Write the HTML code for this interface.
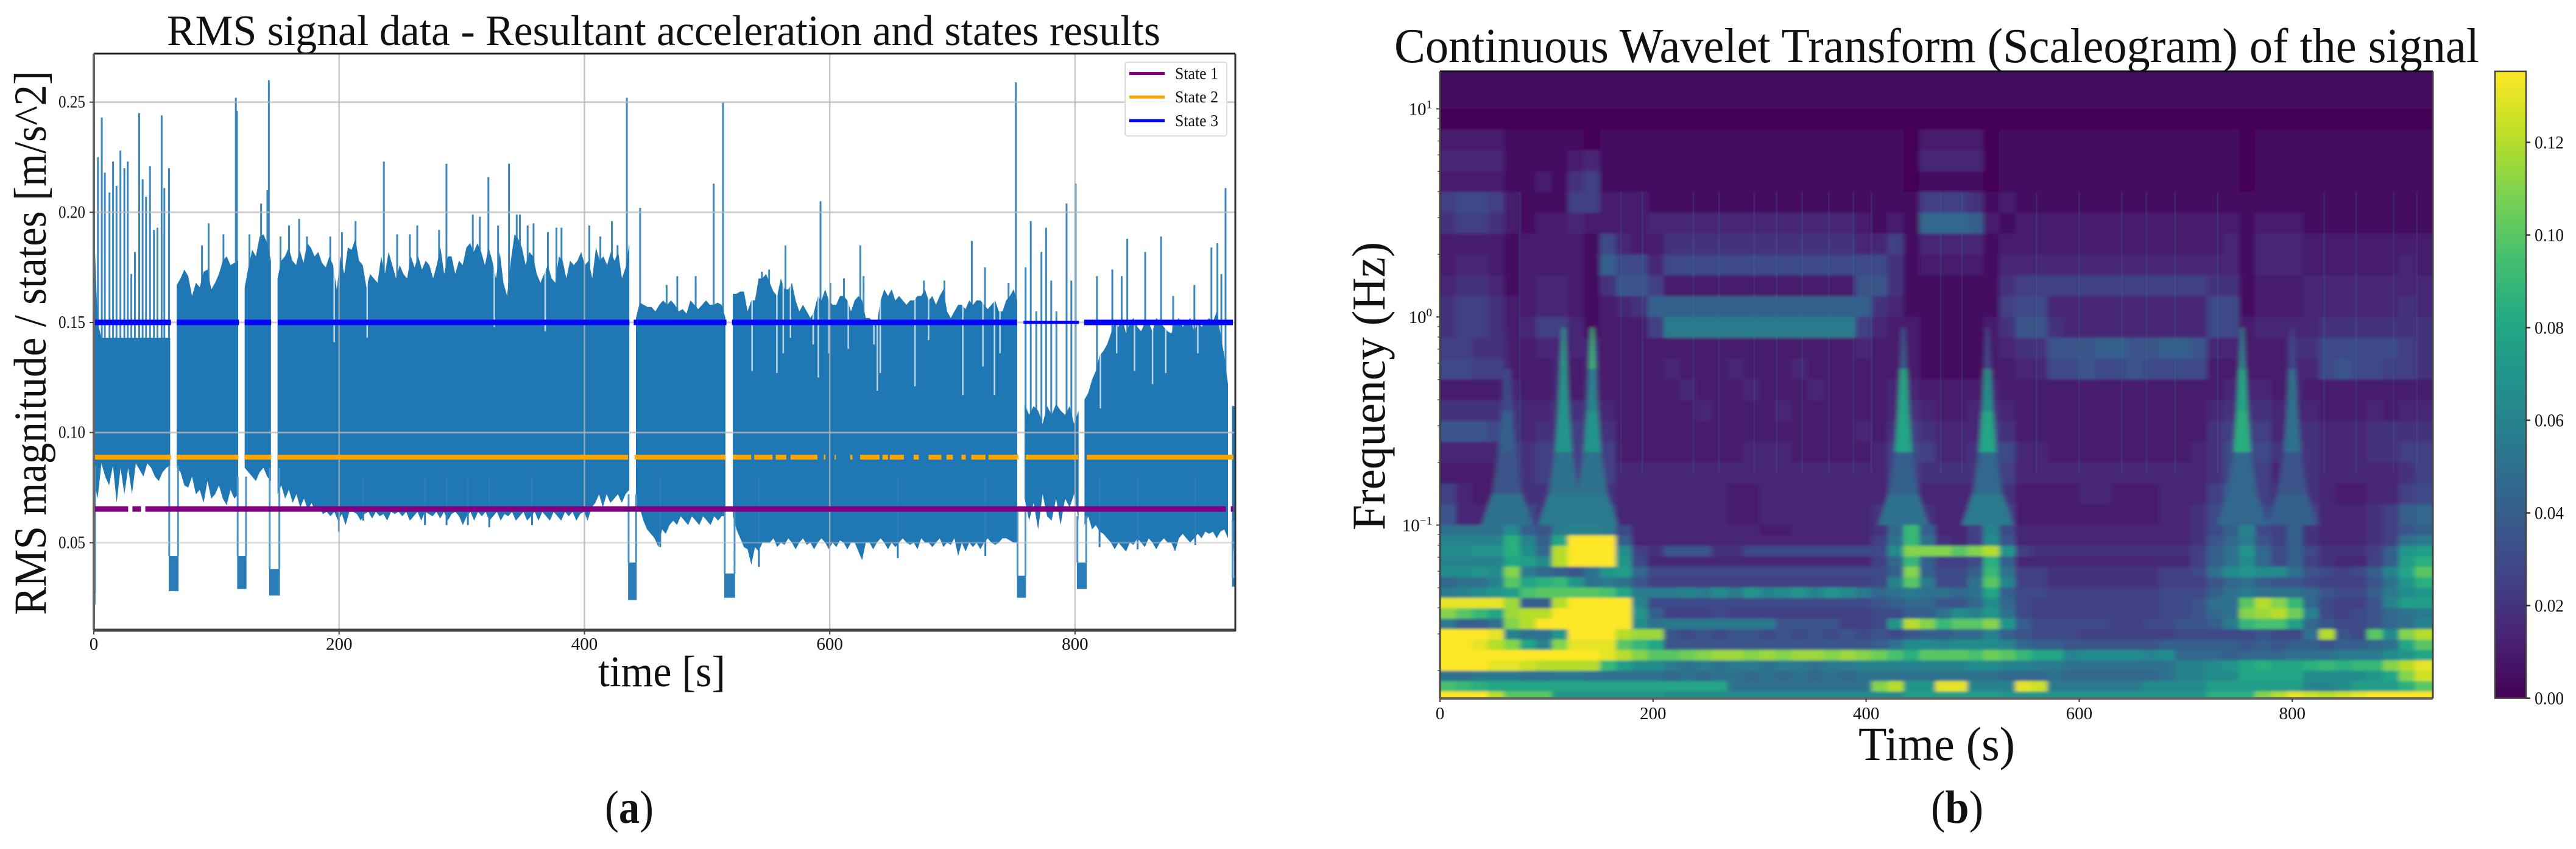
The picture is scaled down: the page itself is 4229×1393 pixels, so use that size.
<!DOCTYPE html>
<html lang="en">
<head>
<meta charset="utf-8">
<title>RMS signal and wavelet scaleogram</title>
<style>
html,body{margin:0;padding:0;background:#fff;width:4229px;height:1393px;overflow:hidden}
svg{display:block}
text{font-family:"Liberation Serif",serif;fill:#111}
</style>
</head>
<body>
<svg id="fig" xmlns="http://www.w3.org/2000/svg" width="4229" height="1393" viewBox="0 0 4229 1393">
<defs>
<clipPath id="clipA"><rect x="154" y="88" width="1874" height="946"/></clipPath>
<clipPath id="clipB"><rect x="2364" y="117" width="1630" height="1029"/></clipPath>
<filter id="soft" x="-2%" y="-2%" width="104%" height="104%"><feGaussianBlur stdDeviation="4 2"/></filter>
<linearGradient id="viridisBar" x1="0" y1="1" x2="0" y2="0">
<stop offset="0" stop-color="#440154"/><stop offset=".1" stop-color="#482475"/><stop offset=".2" stop-color="#414487"/><stop offset=".3" stop-color="#355f8d"/><stop offset=".4" stop-color="#2a788e"/><stop offset=".5" stop-color="#21918c"/><stop offset=".6" stop-color="#22a884"/><stop offset=".7" stop-color="#44bf70"/><stop offset=".8" stop-color="#7ad151"/><stop offset=".9" stop-color="#bddf26"/><stop offset="1" stop-color="#fde725"/>
</linearGradient>
</defs>

<text x="274" y="74" font-size="71" textLength="1631" lengthAdjust="spacingAndGlyphs">RMS signal data - Resultant acceleration and states results</text>
<text transform="translate(75,1009) rotate(-90)" font-size="75" textLength="893" lengthAdjust="spacingAndGlyphs">RMS magnitude / states  [m/s^2]</text>
<text x="982" y="1126" font-size="72" textLength="209" lengthAdjust="spacingAndGlyphs">time [s]</text>
<g id="chartA"></g>
<text x="993" y="1350" font-size="76" textLength="80" lengthAdjust="spacingAndGlyphs">(<tspan font-weight="bold">a</tspan>)</text>

<text x="2289" y="102" font-size="80" textLength="1781" lengthAdjust="spacingAndGlyphs">Continuous Wavelet Transform (Scaleogram) of the signal</text>
<text transform="translate(2273,870) rotate(-90)" font-size="77" textLength="473" lengthAdjust="spacingAndGlyphs">Frequency (Hz)</text>
<text x="3051" y="1247" font-size="78" textLength="257" lengthAdjust="spacingAndGlyphs">Time (s)</text>
<g id="chartB"></g>
<text x="3170" y="1350" font-size="76" textLength="86" lengthAdjust="spacingAndGlyphs">(<tspan font-weight="bold">b</tspan>)</text>
</svg>

<script>
// ---------- Panel (a): RMS signal (values in 0.001 m/s^2) ----------
const timeTicks = [0, 200, 400, 600, 800];
const rmsTicks = [0.05, 0.10, 0.15, 0.20, 0.25];
const rmsTickLabels = ['0.05', '0.10', '0.15', '0.20', '0.25'];
const legendLabels = ['State 1', 'State 2', 'State 3'];
const stateColors = ['#800080', '#ffa500', '#0000ff'];
const stateLevels = [0.0653, 0.0888, 0.15];

const bandStarts = [0, 67.6, 123, 149.8, 442, 521, 758.9, 807.7, 928];
const bandEnds = [62.3, 117.7, 144.4, 436.6, 515, 752.9, 802.9, 924.7, 930.6];
const bandUpper = [
[197,150,143,143,143,143,143,143,143,143,143,143,143,143,143,143,143,143,143,143,143],
[167,170,174,171,162,168,166,173,174,165,168,172,178,180,176,177,178],
[166,175,183,180,189,190,186,178],
[170,178,180,184,178,176,183,177,186,184,180,182,177,175,180,176,165,180,172,184,183,188,178,176,166,172,170,168,180,172,182,176,170,176,172,170,180,175,180,174,178,176,170,176,184,172,180,180,172,178,176,184,186,182,186,182,176,184,178,170,182,168,162,178,190,188,184,176,182,180,172,168,172,176,170,168,180,178,170,178,176,178,182,176,178,170,184,178,180,176,182,178,182,170,175,186],
[152,159,158,157,157,155,158,160,158,160,158,155,156,154,160,158,156,158,160,158,158,159,158,152],
[163,163,164,164,155,160,160,170,170,172,168,164,162,170,165,165,168,160,155,158,155,152,155,162,160,165,160,158,158,162,162,160,155,160,162,160,152,152,150,150,160,165,162,165,160,162,160,158,160,160,162,162,165,160,162,158,162,165,155,152,155,158,158,156,160,158,160,160,158,156,158,160,155,155,160,162,165,160],
[113,108,112,110,104,112,108,113,110,108,112,104,110],
[115,118,124,128,135,137,140,145,150,148,152,145,150,152,148,146,150,150,146,152,150,148,146,145,150,152,148,150,152,146,150,148,150,152,150,155,145,135,122],
[112,112]
];
const bandLower = [
[78,70,86,80,76,85,68,84,72,84,72,86,83,80,86,84,80,78,82,84,85],
[84,82,76,75,80,72,74,68,78,70,72,76,70,67,74,70,72],
[84,82,80,78,82,84,80,78],
[72,76,70,74,68,72,66,70,65,68,64,66,63,64,62,64,60,63,58,64,64,63,60,63,64,61,64,62,63,60,64,63,64,62,64,60,62,64,60,64,63,62,64,61,64,60,63,64,62,58,62,64,60,64,62,64,60,62,64,60,63,62,64,60,62,64,60,62,64,60,64,62,60,64,62,60,64,62,64,60,63,64,60,66,68,72,66,72,68,70,72,68,72,74],
[64,66,60,56,54,52,48,56,54,58,60,58,62,60,58,62,60,58,62,60,58,62,60,62,62],
[62,56,52,48,47,40,48,46,50,50,50,52,48,50,49,52,50,47,50,52,49,50,47,50,52,50,47,50,48,51,50,47,50,50,46,42,50,50,47,50,52,50,47,50,48,50,52,50,49,50,47,52,50,50,48,50,52,48,50,49,52,44,50,46,50,48,50,47,50,52,50,49,50,52,52,51,50,50],
[70,60,68,56,72,62,60,70,58,70,66,72,60],
[58,62,56,58,55,54,52,50,47,50,48,46,50,49,52,50,48,52,50,47,50,52,50,50,46,52,54,52,50,52,54,52,55,54,55,52,55,56,52],
[34,60]
];

const spikeTimes = [3.4,6.5,9,12.8,15.7,18.5,21.7,24.9,27.7,30.6,33.5,37,39.8,42.6,45.8,49,51.9,55.3,57.5,61.3,88.2,93.6,105.7,115.8,116.7,126.9,136.4,141.5,142.7,152.2,159.2,167.4,173.8,192.8,202.3,213.4,236.5,247.3,257.7,263.7,281.5,287.5,309,314.7,321.7,329.6,338.5,344.8,347.4,353.7,358.5,370.2,377.2,381.3,404,413,422.4,427,434.6,445.4,467,475.7,490.7,505.4,513,544.7,550.6,563.9,592.5,600.5,611.6,624.9,627.6,676.8,693.5,715.8,726.6,745.8,751.7,759.7,763.9,768.4,772.6,776.4,780.6,784.8,793.1,797,800.5,817.9,830.4,838,842.6,857.2,870.1,880,897.3,911.2,916.1,919.3,922.7];
const spikeValues = [225,243,218,209,223,212,228,220,223,172,182,245,215,207,221,192,193,244,211,220,185,195,190,252,246,190,204,210,260,189,194,197,189,189,191,196,223,190,190,194,192,222,199,198,216,194,222,199,199,194,195,191,193,193,194,189,196,185,252,202,167,171,171,213,250,173,174,185,205,168,170,185,171,169,169,187,175,168,259,175,196,155,182,193,169,155,204,169,213,171,174,171,188,182,189,162,167,184,186,172,211];

const dropoutTimes = [196,222.9,326.5,368,536.7,556.9,562.1,568,586.5,590.7,599.4,615.1,636,638.8,641.2,669.5,680.6,708.5,724.9,734.3,738.8,820.7,833.9,848.5,863.2,874,900.1];
const dropoutBottoms = [141,143,148,146,128,127,136,143,140,125,136,138,140,119,127,121,142,117,130,117,136,111,136,128,122,127,136];

const lowSpikeTimes = [199.8,219.6,270,287.6,305,322.4,357.3,461.8,542.3,655.5,726.9,820,851,898];
const lowSpikeValues = [55,60,58,58,58,57,58,48,39,43,44,48,47,49];

const dipStarts = [0,61.1,116.9,143,435.6,514,752.7,801.5,928];
const dipEnds = [1.4,69.1,124.5,151.7,442.6,522.8,760,809.5,930.6];
const dipTops = [27,44,44,38,41,36,35,41,34];
const dipBottoms = [22,28,29,26,24,25,25,29,30];
const dipEdgeTops = [85,85,80,84,72,66,64,62,60];

const state1Starts = [0.8,31.5,42,927];
const state1Ends = [28,38.5,923,929];
const state2Starts = [0.8,67.4,122.8,150,440.9,521,538.4,555.9,568,595.2,604,616.8,624.8,643,649,668.4,680.6,695.2,707.4,715.4,729.4,759.7,809.5];
const state2Ends = [62.9,117.9,144.7,435.6,515.1,536,553.4,564.6,590,596.5,605,618.5,640.5,647.5,660.4,672.6,691,700.4,710.9,727,753.8,802.5,929];
const state3Starts = [0.5,67.6,123,150,440.2,520.3,807.4];
const state3Ends = [62.9,118.3,144.6,436.7,515.8,752.7,928.7];
const state3SparseStarts = [758];
const state3SparseEnds = [803.2];

// ---------- Panel (b): scaleogram ----------
const colorbarTicks = [0, 0.02, 0.04, 0.06, 0.08, 0.10, 0.12];
const colorbarTickLabels = ['0.00', '0.02', '0.04', '0.06', '0.08', '0.10', '0.12'];
const freqTicksHz = [10, 1, 0.1];
const freqTickBases = ['10', '10', '10'];
const freqTickPowers = ['1', '0', '\u22121'];
const minorMantissas = [2, 3, 4, 5, 6, 7, 8, 9];
const minorDecades = [1, 0.1, 0.01];
const heatColumnSeconds = 15;
const heatUnit = 0.005;
const heatRowEdgesLog10Hz = [1.18,1.1,1.0,0.9,0.8,0.7,0.6,0.5,0.4,0.3,0.2,0.1,0,-0.1,-0.2,-0.3,-0.4,-0.5,-0.6,-0.7,-0.8,-0.9,-1.0,-1.05,-1.1,-1.15,-1.2,-1.25,-1.3,-1.35,-1.4,-1.45,-1.5,-1.55,-1.6,-1.65,-1.7,-1.75,-1.8,-1.834];
const streakTimes = [75,170,190,238,262,295,316,340,365,388,405,470,490,560,600,640,663,690,730,830,860,895,917];
const coneTimes = [63,116,143,435,514,753,800];
const coneLevelsLog10Hz = [-0.05,-0.25,-0.45,-0.65,-0.85,-1.0];
const coneHalfWidths = [1,3,5,8,14,24];
const coneValues = [
[2,3,6,8,7,10],
[5,15,14,14,10,11],
[5,18,12,14,10,11],
[4,8,16,16,8,10],
[4,6,13,16,9,11],
[5,12,16,17,9,9],
[3,6,10,10,7,8]
];
const heatValues = [
[1,1,1,1,1,1,1,1,1,1, 1,1,1,1,1,1,1,1,1,1, 1,1,1,1,1,1,1,1,1,1, 1,1,1,1,1,1,1,1,1,1, 1,1,1,1,1,1,1,1,1,1, 1,1,1,1,1,1,1,1,1,1, 1,1],
[1,1,1,1,1,1,1,1,1,1, 1,1,1,1,1,1,1,1,1,1, 1,1,1,1,1,1,1,1,1,1, 1,1,1,1,1,1,1,1,1,1, 1,1,1,1,1,1,1,1,1,1, 1,1,1,1,1,1,1,1,1,1, 1,1],
[0,0,0,0,0,0,0,0,0,0, 0,0,0,0,0,0,0,0,0,0, 0,0,0,0,0,0,0,0,0,0, 0,0,0,0,0,0,0,0,0,0, 0,0,0,0,0,0,0,0,0,0, 0,0,0,0,0,0,0,0,0,0, 0,0],
[2,2,2,2,1,1,1,1,1,0, 1,1,1,1,1,1,1,1,1,1, 1,1,1,1,1,1,1,1,1,0, 2,2,2,2,0,1,1,1,1,1, 1,1,1,1,1,1,1,1,1,1, 0,1,1,1,1,1,1,1,1,1, 1,1],
[3,3,3,3,1,1,1,1,2,3, 1,1,1,1,1,1,1,1,1,1, 1,1,1,1,1,1,1,1,1,0, 3,3,3,3,0,1,1,1,1,1, 1,1,1,1,1,1,1,1,1,1, 0,1,1,1,1,1,1,1,1,1, 1,1],
[2,2,2,2,1,1,2,1,4,5, 1,1,1,1,1,1,1,1,1,1, 1,1,1,1,1,1,1,1,1,0, 1,1,1,1,0,1,1,1,1,1, 1,1,1,1,1,1,1,1,1,1, 0,1,1,1,1,1,1,1,1,1, 1,1],
[5,6,6,5,2,1,1,1,5,5, 2,2,2,1,1,1,1,1,1,1, 1,1,1,1,1,1,1,1,1,1, 5,5,5,4,1,2,1,1,1,1, 1,1,1,1,1,1,1,1,1,1, 1,1,1,1,1,1,1,1,1,1, 1,1],
[4,5,5,4,2,1,2,2,3,2, 2,2,2,3,3,3,3,3,3,3, 3,3,3,3,3,3,2,1,2,1, 9,9,9,8,2,1,2,2,2,2, 2,2,2,2,2,2,2,2,2,2, 1,2,2,2,1,1,1,1,1,1, 1,1],
[2,2,2,2,1,2,2,2,2,1, 6,3,2,2,4,4,4,4,4,4, 4,4,4,4,4,4,3,3,5,1, 3,3,3,3,1,2,2,2,2,2, 2,2,2,2,2,2,2,2,2,3, 1,3,3,3,2,2,2,2,2,2, 2,2],
[2,3,3,2,1,2,2,2,2,1, 8,6,6,3,6,6,6,6,6,6, 6,6,6,6,6,6,6,6,4,1, 2,2,2,2,1,3,3,3,3,3, 3,3,3,3,3,3,3,3,3,3, 1,3,3,3,2,2,2,2,2,2, 3,2],
[3,4,4,3,1,2,3,3,2,1, 4,7,7,5,2,2,2,2,2,2, 2,2,2,2,2,2,7,7,4,1, 1,1,1,1,1,4,5,5,5,5, 5,5,5,5,5,5,5,5,4,4, 1,2,2,2,3,3,3,3,3,3, 3,3],
[4,5,5,4,2,2,3,3,2,1, 2,3,4,8,8,8,8,8,8,8, 8,8,8,8,8,8,8,4,3,1, 1,1,1,1,1,5,6,6,3,3, 3,3,3,3,3,3,3,3,6,6, 1,2,2,2,3,3,3,3,3,3, 4,3],
[4,5,5,4,2,3,5,5,3,1, 2,2,2,5,11,11,11,11,11,11, 11,11,11,11,11,11,5,3,2,2, 1,1,1,1,2,4,7,7,4,3, 3,3,3,3,3,3,3,3,6,6, 2,3,3,3,3,4,4,4,4,4, 4,4],
[5,5,4,4,2,2,3,3,3,3, 2,2,2,2,2,2,2,2,2,2, 2,2,2,2,2,2,3,2,2,2, 1,1,1,1,2,3,4,4,7,7, 7,8,8,7,7,8,8,7,3,3, 2,2,2,4,4,6,6,6,6,6, 5,4],
[6,6,5,5,2,2,2,3,2,3, 2,2,2,2,3,2,2,2,3,2, 2,2,3,2,2,2,2,2,2,2, 1,1,1,1,2,2,3,3,6,6, 7,6,6,7,6,6,6,6,2,2, 2,2,2,3,3,6,7,6,6,5, 5,4],
[2,2,2,2,3,2,2,3,2,3, 2,2,2,2,2,3,2,2,2,3, 2,2,2,3,2,2,2,2,3,3, 2,2,2,2,3,2,2,2,2,2, 2,2,2,2,2,2,2,2,2,3, 3,3,2,3,2,2,2,2,2,2, 2,2],
[4,4,4,4,4,3,3,4,4,4, 3,2,2,2,2,2,3,2,2,2, 2,3,2,2,2,2,2,2,3,4, 3,2,2,3,4,3,2,2,2,2, 2,2,2,2,2,2,2,2,3,4, 4,4,3,3,3,2,2,2,3,2, 3,3],
[7,7,7,6,4,3,4,4,5,4, 4,2,2,2,2,2,2,2,2,2, 2,2,2,2,2,2,3,2,4,5, 4,3,3,3,5,4,2,2,2,2, 2,2,2,2,2,2,2,2,4,5, 5,5,3,4,4,3,3,3,4,4, 4,4],
[3,3,3,3,5,4,5,5,5,5, 5,2,2,2,2,2,2,2,2,3, 3,3,2,2,2,2,2,3,5,6, 5,3,3,4,6,6,3,3,2,2, 2,2,2,2,2,2,2,3,4,6, 6,6,4,5,4,3,3,3,4,4, 5,5],
[2,2,2,2,5,4,5,6,5,5, 5,3,3,3,3,3,3,3,3,3, 3,3,3,3,3,3,3,3,5,5, 4,4,4,4,5,5,3,3,3,3, 3,3,3,3,3,3,3,3,4,6, 5,5,3,5,4,3,3,3,3,3, 4,5],
[5,3,2,2,5,4,4,7,6,7, 4,3,3,3,3,3,3,3,2,2, 3,3,3,3,3,3,3,3,5,5, 3,3,3,3,6,4,2,2,2,2, 3,3,2,2,2,3,3,3,5,7, 6,5,4,5,4,3,2,2,3,3, 5,6],
[7,3,3,3,8,6,4,8,8,8, 6,3,3,3,3,3,3,3,2,2, 3,3,3,3,3,3,3,4,8,8, 4,3,3,4,9,5,2,2,2,2, 2,2,2,2,2,3,3,4,6,8, 8,6,5,7,5,3,3,3,4,5, 8,9],
[10,10,10,10,13,8,7,11,12,12, 11,6,3,3,3,3,3,3,3,3, 2,2,3,3,3,3,3,4,9,18, 8,3,3,5,12,6,3,3,3,3, 3,3,3,3,3,3,3,4,6,8, 12,6,5,8,4,3,3,3,4,5, 7,8],
[12,12,12,12,17,12,8,16,27,27, 27,8,3,3,3,3,3,3,3,3, 3,3,3,3,3,3,3,5,10,18, 10,4,3,5,13,7,3,3,3,3, 3,3,3,3,3,3,3,4,7,9, 11,7,5,8,4,3,3,3,4,5, 10,11],
[13,13,14,14,17,13,9,24,27,27, 27,13,5,4,7,7,7,4,4,6, 6,6,6,6,6,6,6,6,13,22, 22,22,20,22,24,14,5,4,4,4, 4,4,4,4,4,4,4,5,8,10, 14,9,6,8,6,4,4,4,5,8, 14,15],
[12,12,12,12,16,15,13,24,27,27, 27,14,6,3,3,3,3,3,3,3, 3,3,3,3,3,3,3,5,9,18, 8,5,5,6,17,8,3,3,3,3, 3,3,3,3,3,3,3,5,8,10, 13,9,6,8,5,4,3,3,5,8, 15,17],
[13,13,14,13,22,11,9,8,7,10, 14,15,9,6,6,6,6,6,6,6, 6,6,6,6,6,6,6,6,8,22, 8,6,6,8,18,10,5,5,4,4, 4,4,4,4,4,5,5,6,10,13, 14,13,13,10,7,6,5,6,8,12, 16,20],
[9,10,10,12,20,16,17,18,14,10, 11,10,7,5,5,5,5,5,5,5, 5,5,5,5,5,5,5,6,12,20, 11,6,6,10,20,12,5,5,4,4, 4,4,4,4,4,5,5,5,7,9, 10,8,7,7,6,5,5,5,7,10, 14,17],
[11,12,13,14,15,19,20,20,20,20, 19,16,11,11,11,12,11,13,11,14, 12,13,14,12,14,13,11,9,10,11, 10,10,9,10,16,8,6,6,5,5, 5,5,5,5,5,6,6,6,8,10, 11,10,10,10,9,7,6,6,8,11, 13,14],
[26,26,26,26,23,8,8,24,27,27, 27,27,12,6,6,6,6,6,6,6, 6,6,6,6,6,6,6,7,8,9, 9,7,7,9,13,9,6,5,5,5, 5,5,5,5,5,6,6,7,10,10, 20,24,22,18,9,6,5,5,7,12, 15,15],
[22,20,18,16,23,24,24,27,27,27, 27,27,14,8,5,5,5,6,5,5, 5,5,5,5,5,5,5,6,6,8, 8,10,13,12,14,10,6,5,5,5, 5,5,5,5,5,6,6,7,9,10, 22,23,24,21,12,6,5,6,7,9, 10,11],
[11,8,8,10,22,24,27,27,27,27, 27,27,13,10,11,11,11,11,11,11, 11,7,7,7,7,5,5,6,14,24, 22,18,20,20,22,14,8,6,6,6, 6,6,5,5,6,6,7,7,8,11, 18,19,19,15,9,7,6,6,7,9, 10,12],
[27,27,27,26,12,10,10,14,27,27, 27,24,23,23,7,6,7,6,7,7, 6,7,6,7,6,7,6,7,6,7, 8,8,9,9,12,8,7,6,6,6, 5,5,5,5,5,5,6,6,6,6, 6,7,6,6,10,24,7,6,20,13, 22,24],
[27,27,26,24,22,16,12,22,26,26, 26,20,18,16,7,7,7,7,7,7, 7,7,7,7,7,7,7,8,10,13, 13,12,13,13,13,12,9,8,8,7, 7,7,7,7,7,8,8,8,8,8, 7,8,7,8,8,7,8,8,9,10, 16,20],
[27,27,27,27,27,27,27,27,27,27, 26,24,22,20,20,21,22,23,23,22, 23,22,23,23,22,23,22,21,19,17, 20,20,20,19,21,20,18,16,16,12, 13,13,13,13,12,13,9,9,9,8, 9,9,9,10,10,10,11,11,11,13, 14,16],
[27,27,27,26,26,25,24,24,24,24, 18,15,13,13,11,10,11,10,11,11, 10,11,11,10,11,11,12,12,12,12, 12,12,12,13,13,12,12,11,11,10, 10,10,10,10,10,10,12,12,13,14, 16,17,16,16,17,18,17,18,18,22, 24,26],
[10,10,11,11,11,10,10,11,11,10, 10,10,10,10,9,10,9,10,10,9, 10,9,10,9,10,9,10,10,10,10, 10,10,10,10,10,9,9,9,10,9, 9,9,9,9,9,10,12,12,13,13, 16,16,16,16,13,13,13,13,14,16, 22,25],
[19,18,17,16,16,16,16,16,16,16, 16,16,16,16,16,16,16,16,10,10, 10,10,10,10,10,10,10,22,24,14, 14,26,26,12,12,12,26,25,11,11, 11,11,11,11,13,13,13,13,15,15, 15,15,15,15,12,12,13,15,15,15, 17,20],
[27,27,27,24,20,20,20,14,14,14, 14,14,14,14,13,13,13,13,13,13, 13,13,13,13,13,13,13,13,13,15, 15,15,15,15,15,14,14,14,14,14, 14,14,14,14,14,14,14,14,17,17, 17,22,24,26,25,24,25,26,27,27, 27,27]
];

// ---------- Drawing ----------
const NS = 'http://www.w3.org/2000/svg';
const chartA = document.getElementById('chartA');
const chartB = document.getElementById('chartB');
function make(tag, attrs, parent) {
  const e = document.createElementNS(NS, tag);
  for (const k in attrs) e.setAttribute(k, attrs[k]);
  parent.appendChild(e);
  return e;
}
// axis functions, panel (a)
const xA = t => 154 + t * 2.0136;
const yA = v => 529 - (v - 0.15) * 3614;
const yAm = m => yA(m / 1000);
// axis functions, panel (b)
const xB = t => 2364 + t * 1.749;
const yBlog = l => 520 - 341.5 * l;
const yB = hz => yBlog(Math.log10(hz));
const yC = v => 1145.6 - v * 7600;
const viridis = ['#440154','#482475','#414487','#355f8d','#2a788e','#21918c','#22a884','#44bf70','#7ad151','#bddf26','#fde725'];
function hex(c) { return [1,3,5].map(i => parseInt(c.substr(i,2),16)); }
function heatColor(v) {
  const n = Math.max(0, Math.min(1, v / 0.135)) * 10;
  const i = Math.min(9, Math.floor(n)), f = n - i;
  const a = hex(viridis[i]), b = hex(viridis[i + 1]);
  return 'rgb(' + a.map((c, k) => Math.round(c + (b[k] - c) * f)).join(',') + ')';
}

// ----- panel (a) -----
const clipA = make('g', {'clip-path': 'url(#clipA)'}, chartA);



spikeTimes.forEach((t, i) => {
  const l = make('line', {x1: xA(t), x2: xA(t), y1: yAm(spikeValues[i]), y2: yA(0.105), stroke: '#1f77b4', 'stroke-opacity': 0.88, 'stroke-width': 3}, clipA);
  
  
});
bandStarts.forEach((s, i) => {
  const e = bandEnds[i], up = bandUpper[i], lo = bandLower[i], pts = [];
  up.forEach((m, k) => pts.push(xA(s + (e - s) * k / Math.max(1, up.length - 1)).toFixed(1) + ',' + yAm(m).toFixed(1)));
  for (let k = lo.length - 1; k >= 0; k--) pts.push(xA(s + (e - s) * k / Math.max(1, lo.length - 1)).toFixed(1) + ',' + yAm(lo[k]).toFixed(1));
  const p = make('polygon', {points: pts.join(' '), fill: '#1f77b4'}, clipA);
  
  
});
dropoutTimes.forEach((t, i) => {
  const l = make('line', {x1: xA(t), x2: xA(t), y1: yA(0.192), y2: yAm(dropoutBottoms[i]), stroke: '#fff', 'stroke-opacity': 0.7, 'stroke-width': 2.5}, clipA);
  
  
});
lowSpikeTimes.forEach((t, i) => {
  const l = make('line', {x1: xA(t), x2: xA(t), y1: yAm(lowSpikeValues[i]), y2: yA(0.08), stroke: '#2a7db8', 'stroke-width': 3}, clipA);
  
  
});
dipStarts.forEach((s, i) => {
  const e = dipEnds[i];
  const r = make('rect', {x: xA(s), width: xA(e) - xA(s), y: yAm(dipTops[i]), height: yAm(dipBottoms[i]) - yAm(dipTops[i]), fill: '#2a7db8'}, clipA);
  
  
  [s + 0.4, e - 0.4].forEach(t => {
    const l = make('line', {x1: xA(t), x2: xA(t), y1: yAm(dipTops[i]), y2: yAm(dipEdgeTops[i]), stroke: '#4a93c8', 'stroke-width': 3}, clipA);
    
    
  });
});
timeTicks.forEach(t => {
  if (t === 0) return;
  const l = make('line', {x1: xA(t), x2: xA(t), y1: 88, y2: 1034, stroke: '#b4b4b4', 'stroke-opacity': 0.75, 'stroke-width': 2.5}, clipA);
  
  
});
rmsTicks.forEach(v => {
  const l = make('line', {x1: 154, x2: 2028, y1: yA(v), y2: yA(v), stroke: '#b9b9b9', 'stroke-opacity': v < 0.06 ? 0.45 : 0.7, 'stroke-width': 3}, clipA);
  
  
});
function drawState(starts, ends, level, color, width, name) {
  starts.forEach((s, i) => {
    const l = make('line', {x1: xA(s), x2: xA(ends[i]), y1: yA(level), y2: yA(level), stroke: color, 'stroke-width': width}, clipA);
    
    
  });
}
drawState(state1Starts, state1Ends, stateLevels[0], stateColors[0], 9, 'state-1-line');
drawState(state2Starts, state2Ends, stateLevels[1], stateColors[1], 8, 'state-2-line');
drawState(state3Starts, state3Ends, stateLevels[2], stateColors[2], 9, 'state-3-line');
drawState(state3SparseStarts, state3SparseEnds, stateLevels[2], stateColors[2], 5, 'state-3-sparse-line');

const frameA = [[154,88,2028,88,'#222',3],[154,88,154,1034,'#666',4],[154,1034,2028,1034,'#444',5],[2028,88,2028,1036,'#333',3]];
frameA.forEach(f => {
  const l = make('line', {x1: f[0], y1: f[1], x2: f[2], y2: f[3], stroke: f[4], 'stroke-width': f[5]}, chartA);
  
  
});
timeTicks.forEach(t => {
  const m = make('line', {x1: xA(t), x2: xA(t), y1: 1034, y2: 1041, stroke: '#444', 'stroke-width': 2}, chartA);
  
  
  const tx = make('text', {x: xA(t), y: 1066, 'font-size': 29, 'text-anchor': 'middle', fill: '#333'}, chartA);
  tx.textContent = String(t);
  
  
});
rmsTicks.forEach((v, i) => {
  const m = make('line', {x1: 147, x2: 154, y1: yA(v), y2: yA(v), stroke: '#444', 'stroke-width': 2}, chartA);
  
  
  const tx = make('text', {x: 140, y: yA(v) + 9, 'font-size': 29, 'text-anchor': 'end', textLength: 44, lengthAdjust: 'spacingAndGlyphs', fill: '#333'}, chartA);
  tx.textContent = rmsTickLabels[i];
  
  
});
const legend = make('g', {}, chartA);


const legendBox = make('rect', {x: 1847, y: 102, width: 167, height: 121, rx: 4, fill: '#fff', 'fill-opacity': 0.85, stroke: '#dcdcdc', 'stroke-width': 2}, legend);


legendLabels.forEach((lab, i) => {
  const ly = 120.5 + i * 38.7;
  const sw = make('line', {x1: 1854, x2: 1912, y1: ly, y2: ly, stroke: stateColors[i], 'stroke-width': 5}, legend);
  
  
  const tx = make('text', {x: 1929, y: ly + 9, 'font-size': 27, textLength: 71, lengthAdjust: 'spacingAndGlyphs', fill: '#222'}, legend);
  tx.textContent = lab;
  
  
});

// ----- panel (b) -----
const clipB = make('g', {'clip-path': 'url(#clipB)'}, chartB);


const backing = make('rect', {x: 2364, y: 117, width: 1630, height: 1029, fill: '#45085b'}, clipB);


const heatGroup = make('g', {filter: 'url(#soft)'}, clipB);


heatValues.forEach((row, r) => {
  const y0 = yBlog(heatRowEdgesLog10Hz[r]) - (r === 0 ? 20 : 0);
  const y1 = yBlog(heatRowEdgesLog10Hz[r + 1]) + (r === heatValues.length - 1 ? 20 : 0);
  row.forEach((val, c) => {
    const x0 = xB(c * heatColumnSeconds) - (c === 0 ? 20 : 0);
    const x1 = xB((c + 1) * heatColumnSeconds) + (c === row.length - 1 ? 20 : 0);
    const cell = make('rect', {x: x0.toFixed(1), y: y0.toFixed(1), width: (x1 - x0 + 0.6).toFixed(1), height: (y1 - y0 + 0.6).toFixed(1), fill: heatColor(val * heatUnit)}, heatGroup);
    
    
  });
});
coneTimes.forEach((t, i) => {
  coneLevelsLog10Hz.forEach((l, k) => {
    if (k === coneLevelsLog10Hz.length - 1) return;
    const l2 = coneLevelsLog10Hz[k + 1];
    const w1 = coneHalfWidths[k], w2 = coneHalfWidths[k + 1];
    const pts = [xB(t - w1) + ',' + yBlog(l), xB(t + w1) + ',' + yBlog(l), xB(t + w2) + ',' + yBlog(l2), xB(t - w2) + ',' + yBlog(l2)].join(' ');
    const seg = make('polygon', {points: pts, fill: heatColor(coneValues[i][k + 1] * heatUnit)}, heatGroup);
    
    
  });
});
streakTimes.forEach(t => {
  const l = make('line', {x1: xB(t), x2: xB(t), y1: yBlog(0.6), y2: yBlog(-0.75), stroke: '#2f7f8f', 'stroke-opacity': 0.22, 'stroke-width': 2.5}, clipB);
  
  
});
const frameB = [[2364,117,3994,117,'#111',3],[2364,117,2364,1146,'#444',3],[2364,1146,3994,1146,'#666',4],[3994,117,3994,1146,'#444',3]];
frameB.forEach(f => {
  const l = make('line', {x1: f[0], y1: f[1], x2: f[2], y2: f[3], stroke: f[4], 'stroke-width': f[5]}, chartB);
  
  
});
timeTicks.forEach(t => {
  const m = make('line', {x1: xB(t), x2: xB(t), y1: 1146, y2: 1152, stroke: '#444', 'stroke-width': 2}, chartB);
  
  
  const tx = make('text', {x: xB(t), y: 1180, 'font-size': 29, 'text-anchor': 'middle', fill: '#333'}, chartB);
  tx.textContent = String(t);
  
  
});
freqTicksHz.forEach((hz, i) => {
  const m = make('line', {x1: 2358, x2: 2364, y1: yB(hz), y2: yB(hz), stroke: '#444', 'stroke-width': 2}, chartB);
  
  
  const tx = make('text', {x: 2351, y: yB(hz) + 10, 'font-size': 29, 'text-anchor': 'end', fill: '#333'}, chartB);
  
  
  const base = make('tspan', {}, tx);
  base.textContent = freqTickBases[i];
  const pow = make('tspan', {dy: -11, 'font-size': 19}, tx);
  pow.textContent = freqTickPowers[i];
});
minorDecades.forEach(decade => {
  minorMantissas.forEach(mant => {
    const hzMinor = mant * decade;
    const n = make('line', {x1: 2360, x2: 2364, y1: yB(hzMinor), y2: yB(hzMinor), stroke: '#555', 'stroke-width': 1.5}, chartB);
    
    
  });
});
const bar = make('rect', {x: 4096, y: 117, width: 51, height: 1028.6, fill: 'url(#viridisBar)', stroke: '#444', 'stroke-width': 2.5}, chartB);


colorbarTicks.forEach((v, i) => {
  const m = make('line', {x1: 4147, x2: 4154, y1: yC(v), y2: yC(v), stroke: '#333', 'stroke-width': 2.5}, chartB);
  
  
  const tx = make('text', {x: 4161, y: yC(v) + 10, 'font-size': 30, textLength: 48, lengthAdjust: 'spacingAndGlyphs', fill: '#333'}, chartB);
  tx.textContent = colorbarTickLabels[i];
  
  
});
</script>
</body>
</html>
